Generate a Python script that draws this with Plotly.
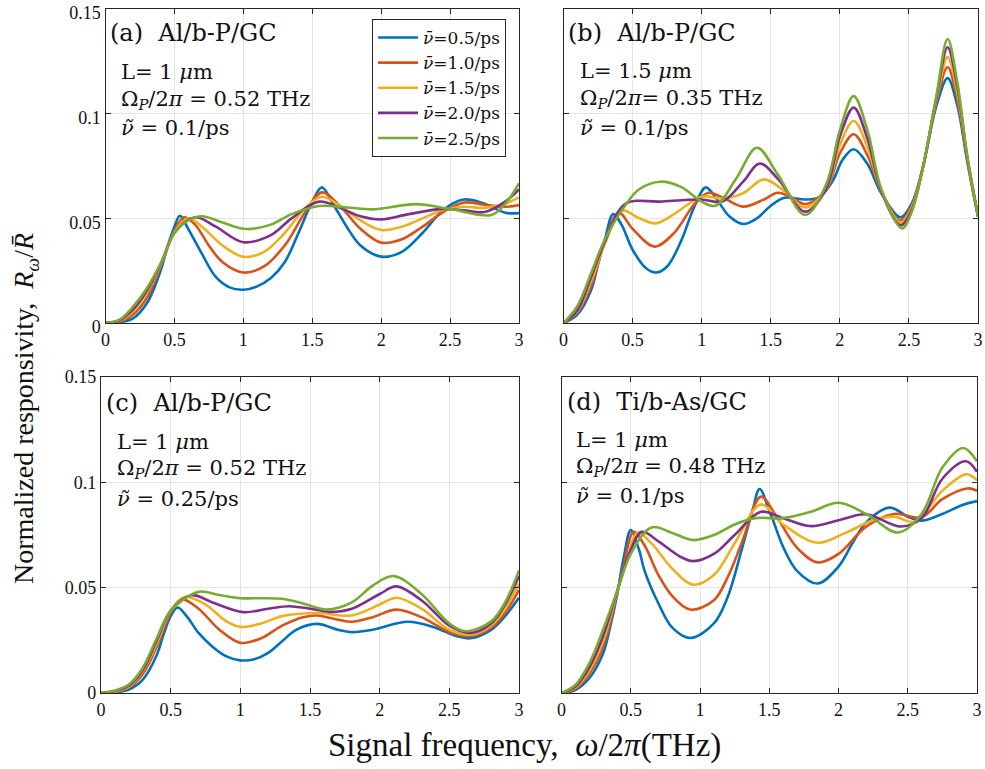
import plotly.graph_objects as go

# ---------------- data ----------------
x_ticks = [0, 0.5, 1, 1.5, 2, 2.5, 3]
x_tick_text = ["0", "0.5", "1", "1.5", "2", "2.5", "3"]
y_ticks = [0, 0.05, 0.1, 0.15]
y_tick_text = ["0", "0.05", "0.1", "0.15"]

series_names = ["0.5", "1.0", "1.5", "2.0", "2.5"]
series_colors = ["#0072BD", "#D95319", "#EDB120", "#7E2F8E", "#77AC30"]

# panel (a)
a1_x = [0, 0.1, 0.2, 0.3, 0.4, 0.45, 0.5, 0.54, 0.6, 0.7, 0.8, 0.9, 1.0, 1.1, 1.2, 1.3, 1.4, 1.5, 1.57, 1.65, 1.75, 1.85, 2.0, 2.15, 2.3, 2.45, 2.6, 2.75, 2.9, 3.0]
a1_y = [0, 0.0003, 0.0022, 0.0094, 0.025, 0.0365, 0.046, 0.0512, 0.045, 0.033, 0.022, 0.017, 0.0159, 0.0175, 0.0215, 0.029, 0.043, 0.058, 0.0648, 0.057, 0.046, 0.037, 0.0317, 0.034, 0.043, 0.054, 0.059, 0.057, 0.0527, 0.0525]
a2_x = [0, 0.1, 0.2, 0.3, 0.4, 0.5, 0.57, 0.65, 0.75, 0.85, 1.0, 1.15, 1.3, 1.45, 1.57, 1.7, 1.85, 2.0, 2.15, 2.3, 2.45, 2.6, 2.75, 2.9, 3.0]
a2_y = [0, 0.0006, 0.004, 0.012, 0.027, 0.044, 0.0505, 0.047, 0.037, 0.029, 0.0241, 0.027, 0.037, 0.053, 0.0624, 0.056, 0.045, 0.0384, 0.040, 0.046, 0.053, 0.0575, 0.0565, 0.0555, 0.0563]
a3_x = [0, 0.1, 0.2, 0.3, 0.4, 0.5, 0.6, 0.7, 0.85, 1.0, 1.15, 1.3, 1.45, 1.57, 1.7, 1.85, 2.0, 2.15, 2.3, 2.45, 2.6, 2.75, 2.9, 3.0]
a3_y = [0, 0.001, 0.0055, 0.0145, 0.0275, 0.0435, 0.050, 0.046, 0.037, 0.0316, 0.034, 0.043, 0.055, 0.0603, 0.056, 0.049, 0.0444, 0.046, 0.050, 0.054, 0.0555, 0.055, 0.057, 0.060]
a4_x = [0, 0.1, 0.2, 0.3, 0.4, 0.5, 0.65, 0.8, 1.0, 1.2, 1.35, 1.55, 1.7, 1.85, 2.0, 2.2, 2.45, 2.6, 2.75, 2.9, 3.0]
a4_y = [0, 0.0012, 0.0065, 0.0155, 0.028, 0.043, 0.0505, 0.046, 0.0386, 0.042, 0.050, 0.058, 0.055, 0.051, 0.0495, 0.052, 0.0545, 0.0538, 0.053, 0.058, 0.0638]
a5_x = [0, 0.1, 0.2, 0.3, 0.4, 0.5, 0.6, 0.7, 0.85, 1.02, 1.2, 1.35, 1.55, 1.75, 1.95, 2.25, 2.5, 2.8, 2.9, 3.0]
a5_y = [0, 0.0015, 0.0078, 0.0166, 0.0285, 0.043, 0.049, 0.051, 0.048, 0.0449, 0.047, 0.052, 0.0559, 0.0552, 0.0543, 0.0568, 0.0545, 0.0516, 0.057, 0.0667]

# panel (b)
b1_x = [0, 0.1, 0.2, 0.25, 0.3, 0.36, 0.42, 0.5, 0.6, 0.67, 0.75, 0.85, 0.95, 1.03, 1.1, 1.2, 1.3, 1.4, 1.5, 1.6, 1.75, 1.85, 1.95, 2.02, 2.1, 2.2, 2.3, 2.44, 2.52, 2.6, 2.7, 2.78, 2.85, 2.92, 3.0]
b1_y = [0, 0.004, 0.0158, 0.028, 0.040, 0.052, 0.047, 0.035, 0.026, 0.0241, 0.027, 0.039, 0.056, 0.0648, 0.060, 0.051, 0.0473, 0.050, 0.056, 0.0598, 0.059, 0.060, 0.068, 0.078, 0.083, 0.076, 0.062, 0.0505, 0.057, 0.074, 0.104, 0.117, 0.104, 0.078, 0.0508]
b2_x = [0, 0.1, 0.2, 0.3, 0.4, 0.5, 0.66, 0.8, 0.95, 1.05, 1.15, 1.3, 1.45, 1.55, 1.65, 1.75, 1.9, 2.0, 2.1, 2.2, 2.3, 2.44, 2.52, 2.6, 2.7, 2.78, 2.85, 2.92, 3.0]
b2_y = [0, 0.005, 0.018, 0.039, 0.0527, 0.045, 0.0365, 0.043, 0.057, 0.0622, 0.060, 0.0556, 0.059, 0.0622, 0.060, 0.0568, 0.0635, 0.081, 0.0902, 0.080, 0.063, 0.0489, 0.056, 0.074, 0.106, 0.1222, 0.107, 0.079, 0.051]
b3_x = [0, 0.1, 0.2, 0.3, 0.42, 0.55, 0.67, 0.8, 1.0, 1.15, 1.3, 1.45, 1.6, 1.75, 1.9, 2.0, 2.1, 2.2, 2.3, 2.44, 2.52, 2.6, 2.7, 2.78, 2.85, 2.92, 3.0]
b3_y = [0, 0.0055, 0.020, 0.038, 0.0537, 0.050, 0.0476, 0.052, 0.0603, 0.0595, 0.062, 0.0686, 0.063, 0.0552, 0.064, 0.085, 0.0965, 0.084, 0.063, 0.048, 0.055, 0.074, 0.107, 0.127, 0.110, 0.080, 0.051]
b4_x = [0, 0.1, 0.2, 0.3, 0.45, 0.7, 1.0, 1.15, 1.3, 1.42, 1.55, 1.75, 1.9, 2.0, 2.1, 2.2, 2.3, 2.44, 2.52, 2.6, 2.7, 2.78, 2.85, 2.92, 3.0]
b4_y = [0, 0.006, 0.022, 0.039, 0.057, 0.058, 0.059, 0.058, 0.0675, 0.0762, 0.069, 0.0532, 0.064, 0.089, 0.1029, 0.088, 0.063, 0.0467, 0.054, 0.074, 0.108, 0.1317, 0.113, 0.080, 0.051]
b5_x = [0, 0.1, 0.2, 0.3, 0.45, 0.55, 0.7, 0.85, 1.0, 1.1, 1.25, 1.4, 1.55, 1.75, 1.9, 2.0, 2.1, 2.2, 2.3, 2.45, 2.52, 2.6, 2.7, 2.78, 2.85, 2.92, 3.0]
b5_y = [0, 0.008, 0.0238, 0.040, 0.0565, 0.064, 0.0675, 0.065, 0.058, 0.056, 0.069, 0.0837, 0.071, 0.0516, 0.066, 0.092, 0.1084, 0.092, 0.064, 0.0452, 0.053, 0.074, 0.109, 0.1357, 0.115, 0.081, 0.051]

# panel (c)
c1_x = [0, 0.1, 0.2, 0.3, 0.4, 0.45, 0.5, 0.55, 0.62, 0.7, 0.8, 0.9, 1.0, 1.1, 1.2, 1.3, 1.4, 1.55, 1.7, 1.8, 1.95, 2.2, 2.4, 2.55, 2.65, 2.8, 2.9, 3.0]
c1_y = [0, 0.0003, 0.0016, 0.0063, 0.018, 0.028, 0.0365, 0.0406, 0.036, 0.0285, 0.022, 0.0174, 0.0155, 0.016, 0.019, 0.0246, 0.030, 0.0328, 0.030, 0.0289, 0.030, 0.0338, 0.031, 0.027, 0.026, 0.030, 0.0365, 0.0452]
c2_x = [0, 0.1, 0.2, 0.3, 0.4, 0.5, 0.58, 0.7, 0.85, 1.0, 1.15, 1.3, 1.45, 1.55, 1.7, 1.8, 1.95, 2.12, 2.3, 2.5, 2.65, 2.8, 2.9, 3.0]
c2_y = [0, 0.0005, 0.0025, 0.009, 0.022, 0.038, 0.0444, 0.040, 0.030, 0.0238, 0.026, 0.032, 0.036, 0.0368, 0.0348, 0.0338, 0.036, 0.0396, 0.036, 0.029, 0.027, 0.031, 0.038, 0.049]
c3_x = [0, 0.1, 0.2, 0.3, 0.4, 0.5, 0.6, 0.75, 0.9, 1.0, 1.15, 1.3, 1.55, 1.8, 2.0, 2.12, 2.3, 2.5, 2.65, 2.8, 2.9, 3.0]
c3_y = [0, 0.0007, 0.003, 0.0105, 0.0235, 0.039, 0.0456, 0.042, 0.034, 0.0314, 0.033, 0.0365, 0.038, 0.0368, 0.042, 0.0452, 0.040, 0.030, 0.0277, 0.032, 0.040, 0.052]
c4_x = [0, 0.1, 0.2, 0.3, 0.4, 0.5, 0.65, 0.8, 1.02, 1.2, 1.35, 1.5, 1.65, 1.8, 2.0, 2.12, 2.3, 2.5, 2.65, 2.8, 2.9, 3.0]
c4_y = [0, 0.001, 0.0035, 0.011, 0.025, 0.039, 0.0464, 0.043, 0.0384, 0.040, 0.0412, 0.040, 0.0385, 0.040, 0.047, 0.0506, 0.044, 0.032, 0.0285, 0.033, 0.042, 0.0555]
c5_x = [0, 0.1, 0.2, 0.3, 0.4, 0.5, 0.7, 0.85, 1.0, 1.15, 1.3, 1.45, 1.62, 1.8, 1.95, 2.1, 2.3, 2.5, 2.62, 2.8, 2.9, 3.0]
c5_y = [0, 0.0012, 0.004, 0.012, 0.026, 0.039, 0.048, 0.0465, 0.045, 0.045, 0.0447, 0.0425, 0.0396, 0.043, 0.051, 0.0555, 0.047, 0.033, 0.0293, 0.034, 0.043, 0.0582]

# panel (d)
d1_x = [0, 0.1, 0.2, 0.3, 0.35, 0.4, 0.45, 0.5, 0.56, 0.6, 0.7, 0.8, 0.93, 1.1, 1.2, 1.3, 1.38, 1.43, 1.5, 1.6, 1.7, 1.85, 2.0, 2.1, 2.2, 2.37, 2.5, 2.6, 2.75, 2.9, 3.0]
d1_y = [0, 0.0014, 0.007, 0.0188, 0.031, 0.046, 0.0645, 0.0773, 0.068, 0.058, 0.0425, 0.031, 0.0261, 0.033, 0.0456, 0.0678, 0.0868, 0.0968, 0.0868, 0.0694, 0.058, 0.052, 0.060, 0.071, 0.081, 0.088, 0.0837, 0.0818, 0.085, 0.0894, 0.0911]
d2_x = [0, 0.1, 0.2, 0.3, 0.4, 0.45, 0.52, 0.6, 0.7, 0.8, 0.93, 1.1, 1.2, 1.3, 1.44, 1.55, 1.7, 1.85, 2.0, 2.2, 2.4, 2.6, 2.75, 2.93, 3.0]
d2_y = [0, 0.002, 0.009, 0.022, 0.047, 0.0605, 0.0765, 0.070, 0.056, 0.046, 0.0396, 0.044, 0.055, 0.071, 0.0932, 0.084, 0.069, 0.062, 0.066, 0.079, 0.085, 0.0834, 0.092, 0.0971, 0.096]
d3_x = [0, 0.1, 0.2, 0.3, 0.4, 0.47, 0.55, 0.65, 0.8, 0.95, 1.1, 1.25, 1.44, 1.6, 1.85, 2.05, 2.25, 2.4, 2.55, 2.75, 2.92, 3.0]
d3_y = [0, 0.0025, 0.0105, 0.0245, 0.0475, 0.062, 0.0762, 0.071, 0.059, 0.0514, 0.056, 0.071, 0.0895, 0.080, 0.0713, 0.076, 0.082, 0.0837, 0.0813, 0.096, 0.1038, 0.101]
d4_x = [0, 0.1, 0.2, 0.3, 0.4, 0.5, 0.58, 0.7, 0.85, 0.95, 1.1, 1.25, 1.44, 1.6, 1.8, 2.0, 2.2, 2.45, 2.6, 2.75, 2.92, 3.0]
d4_y = [0, 0.003, 0.012, 0.027, 0.048, 0.068, 0.0765, 0.072, 0.065, 0.0626, 0.066, 0.075, 0.086, 0.083, 0.0792, 0.082, 0.0848, 0.079, 0.083, 0.1017, 0.110, 0.105]
d5_x = [0, 0.1, 0.2, 0.3, 0.4, 0.5, 0.65, 0.8, 0.95, 1.1, 1.25, 1.4, 1.6, 1.8, 2.0, 2.2, 2.43, 2.6, 2.75, 2.9, 3.0]
d5_y = [0, 0.0038, 0.014, 0.030, 0.048, 0.066, 0.0786, 0.076, 0.0726, 0.075, 0.080, 0.083, 0.083, 0.086, 0.0903, 0.085, 0.0762, 0.085, 0.107, 0.1163, 0.110]

panel_a = [(a1_x, a1_y), (a2_x, a2_y), (a3_x, a3_y), (a4_x, a4_y), (a5_x, a5_y)]
panel_b = [(b1_x, b1_y), (b2_x, b2_y), (b3_x, b3_y), (b4_x, b4_y), (b5_x, b5_y)]
panel_c = [(c1_x, c1_y), (c2_x, c2_y), (c3_x, c3_y), (c4_x, c4_y), (c5_x, c5_y)]
panel_d = [(d1_x, d1_y), (d2_x, d2_y), (d3_x, d3_y), (d4_x, d4_y), (d5_x, d5_y)]

# ---------------- figure ----------------
W, H = 985, 769
SERIF = "Liberation Serif"      # MATLAB Times-like axis text
TEX = "DejaVu Serif"            # wider serif for the LaTeX-rendered texts
AXC = "#262626"
TXT = "#111111"

fig = go.Figure()

panels = [panel_a, panel_b, panel_c, panel_d]
axis_ids = ["", "2", "3", "4"]
for p, (data, aid) in enumerate(zip(panels, axis_ids)):
    for i, (xs, ys) in enumerate(data):
        fig.add_trace(go.Scatter(
            x=xs, y=ys, mode="lines",
            line=dict(color=series_colors[i], width=2.6, shape="spline", smoothing=1.0),
            name="<i>ν̄</i>=" + series_names[i] + "/ps",
            showlegend=(p == 0),
            xaxis="x" + aid, yaxis="y" + aid,
        ))

# pixel boxes of the four panels: (left, right, top, bottom)
boxes = [(105.5, 519, 9, 323), (563.5, 978, 9, 323), (101, 519, 377, 693), (561.5, 977, 377, 693)]

def xd(px):
    return px / W

def yd(py):
    return 1 - py / H

tickfont = dict(family=SERIF, size=18, color=TXT)
common_x = dict(range=[0, 3], tickvals=x_ticks, ticktext=x_tick_text, showgrid=True,
                gridcolor="#e4e4e4", gridwidth=1, zeroline=False, showline=True,
                linecolor=AXC, linewidth=1.2, mirror="ticks", ticks="inside", ticklen=5,
                tickcolor=AXC, tickfont=tickfont, automargin=False, fixedrange=True,
                ticklabeloverflow="allow")
common_y = dict(range=[0, 0.15], tickvals=y_ticks, ticktext=y_tick_text, showgrid=True,
                gridcolor="#e4e4e4", gridwidth=1, zeroline=False, showline=True,
                linecolor=AXC, linewidth=1.2, mirror="ticks", ticks="inside", ticklen=5,
                tickcolor=AXC, tickfont=tickfont, automargin=False, fixedrange=True,
                ticklabeloverflow="allow")

layout_axes = {}
for k, (aid, (l, r, t, b)) in enumerate(zip(axis_ids, boxes)):
    xa = dict(common_x, domain=[xd(l), xd(r)], anchor="y" + aid)
    ya = dict(common_y, domain=[yd(b), yd(t)], anchor="x" + aid,
              showticklabels=(k in (0, 2)))
    if k == 0:
        ya["ticklabelshift"] = 4
    layout_axes["xaxis" + aid] = xa
    layout_axes["yaxis" + aid] = ya

fig.update_layout(**layout_axes)

# panel texts
panel_titles = ["(a)  Al/b-P/GC", "(b)  Al/b-P/GC", "(c)  Al/b-P/GC", "(d)  Ti/b-As/GC"]
panel_L = ["L= 1 <i>μ</i>m", "L= 1.5 <i>μ</i>m", "L= 1 <i>μ</i>m", "L= 1 <i>μ</i>m"]
panel_omega = ["Ω<sub><i>P</i></sub>/2<i>π</i> = 0.52 THz", "Ω<sub><i>P</i></sub>/2<i>π</i>= 0.35 THz",
               "Ω<sub><i>P</i></sub>/2<i>π</i> = 0.52 THz", "Ω<sub><i>P</i></sub>/2<i>π</i> = 0.48 THz"]
panel_nu = ["<i>ν̃</i> = 0.1/ps", "<i>ν̃</i> = 0.1/ps", "<i>ν̃</i> = 0.25/ps", "<i>ν̃</i> = 0.1/ps"]
title_pos = [(108, 33), (566, 33), (104, 403), (565, 402)]
text_pos = [(119, [72, 100, 128]), (578, [71, 99, 128]), (115, [442, 469, 499]), (574, [440, 467, 496])]

annotations = []
for k in range(4):
    tx, ty = title_pos[k]
    annotations.append(dict(x=xd(tx), y=yd(ty), xref="paper", yref="paper", text=panel_titles[k],
                            showarrow=False, xanchor="left", yanchor="middle",
                            font=dict(family=TEX, size=24, color=TXT)))
    lx, lys = text_pos[k]
    for txt, ly in zip([panel_L[k], panel_omega[k], panel_nu[k]], lys):
        annotations.append(dict(x=xd(lx), y=yd(ly), xref="paper", yref="paper", text=txt,
                                showarrow=False, xanchor="left", yanchor="middle",
                                font=dict(family=TEX, size=21, color=TXT)))

annotations.append(dict(x=xd(26), y=yd(409), xref="paper", yref="paper",
                        text="Normalized responsivity,  <i>R</i><sub><i>ω</i></sub>/<i>R̄</i>",
                        textangle=-90, showarrow=False, xanchor="center", yanchor="middle",
                        font=dict(family=SERIF, size=28, color=TXT)))
annotations.append(dict(x=xd(524), y=yd(745), xref="paper", yref="paper",
                        text="Signal frequency,  <i>ω</i>/2<i>π</i>(THz)",
                        showarrow=False, xanchor="center", yanchor="middle",
                        font=dict(family=SERIF, size=33, color=TXT)))

fig.update_layout(
    width=W, height=H,
    margin=dict(l=0, r=0, t=0, b=0, autoexpand=False),
    font=dict(family=SERIF, size=18, color=TXT),
    paper_bgcolor="white", plot_bgcolor="white",
    annotations=annotations,
    legend=dict(x=xd(372), y=yd(19), xanchor="left", yanchor="top",
                bgcolor="white", bordercolor=AXC, borderwidth=1,
                font=dict(family=TEX, size=17, color=TXT),
                itemwidth=40, tracegroupgap=0),
)

fig.write_html("out.html", config={"displayModeBar": False},
               post_script="document.body.style.margin='0px';document.body.style.overflow='hidden';")
